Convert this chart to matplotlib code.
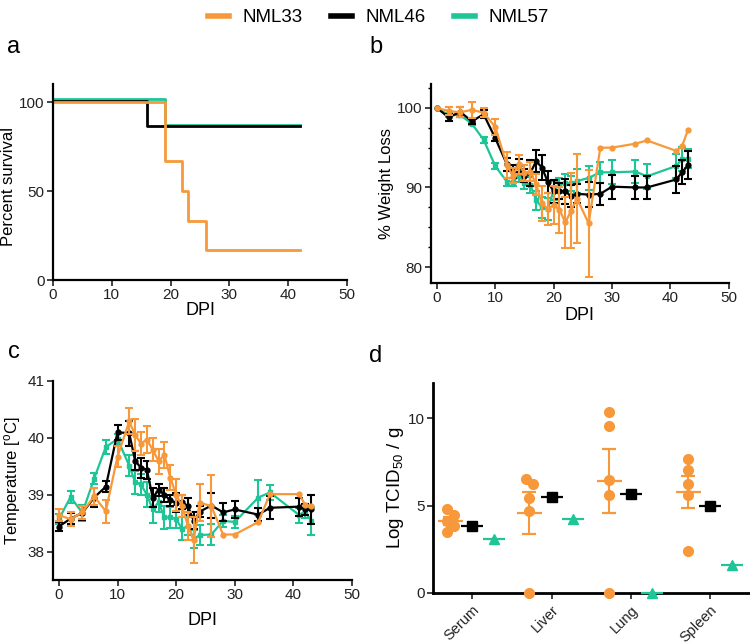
import numpy as np
import matplotlib
matplotlib.use("Agg")
import matplotlib.pyplot as plt
import matplotlib.transforms as mtransforms
from matplotlib.lines import Line2D
from matplotlib.ticker import AutoMinorLocator

plt.rcParams["font.family"] = ["Liberation Sans", "DejaVu Sans"]
plt.rcParams["mathtext.fontset"] = "custom"
plt.rcParams["mathtext.rm"] = "Liberation Sans"
plt.rcParams["mathtext.it"] = "Liberation Sans:italic"

ORANGE = "#F7993A"
BLACK = "#000000"
GREEN = "#1DC597"

strains = ["NML33", "NML46", "NML57"]

# a: survival curves (time, percent)
surv33_t = [0, 19, 22, 23, 26, 42]
surv33_p = [100, 66.7, 50, 33.3, 16.7, 16.7]
surv46_t = [0, 16, 42]
surv46_p = [100, 85.7, 85.7]
surv57_t = [0, 19, 42]
surv57_p = [100, 85.7, 85.7]

# b/c: days post infection
days = [0, 2, 4, 6, 8, 10, 12, 13, 14, 15, 16, 17, 18, 19, 20, 21, 22, 23, 24,
        26, 28, 30, 34, 36, 41, 42, 43]

# b: weight (%)
w33 = [100, 99.6, 99.45, 99.75, 99.4, 97.6, 92.8, 91.5, 92.9, 91.8, 92.0, 90.4,
       88.0, 87.3, 87.8, 87.2, 85.6, 87.1, 88.6, 85.5, 95.0, 95.0, 95.5, 95.9,
       94.6, 95.2, 97.2]
w33_err = [0, 0.5, 0.6, 1.0, 0.6, 1.0, 1.6, 1.0, 1.2, 1.0, 1.2, 1.3, 2.2, 2.0,
           2.4, 2.9, 3.2, 4.7, 5.6, 6.7, 0, 0, 0, 0, 0, 0, 0]
w46 = [100, 98.8, 99.5, 98.3, 99.2, 96.2, 92.9, 92.0, 92.8, 91.5, 91.8, 93.3,
       92.5, 90.7, 89.5, 89.6, 89.5, 88.9, 89.2, 89.1, 89.2, 90.1, 90.0, 90.0,
       91.0, 91.9, 92.8]
w46_err = [0, 0.4, 0.6, 0.3, 0.5, 0.4, 0.8, 0.8, 0.8, 0.8, 1.6, 1.4, 1.6, 1.4,
           1.4, 1.0, 1.6, 1.4, 1.2, 1.6, 1.4, 1.5, 1.4, 1.5, 1.7, 1.5, 1.8]
w57 = [100, 99.1, 99.1, 98.0, 96.0, 92.7, 90.7, 90.7, 91.5, 90.6, 90.3, 88.4,
       87.5, 87.3, 89.6, 90.4, 90.5, 90.5, 90.8, 91.2, 91.9, 91.9, 92.0, 91.4,
       92.7, 93.6, 93.6]
w57_err = [0, 0.2, 0.2, 0.2, 0.4, 0.4, 0.5, 0.5, 0.8, 0.8, 1.0, 1.2, 1.3, 1.4,
           1.2, 0.8, 1.2, 1.0, 1.5, 1.5, 1.3, 1.5, 1.5, 1.6, 1.5, 1.5, 1.2]

# c: temperature (C)
t33 = [38.64, 38.57, 38.69, 38.97, 38.71, 39.67, 40.29, 40.05, 39.9, 39.97,
       39.79, 39.59, 39.7, 39.3, 39.0, 38.8, 38.45, 38.2, 38.86, 38.8, 38.3,
       38.3, 38.52, 39.01, 39.01, 38.82, 38.8]
t33_err = [0.1, 0.12, 0.12, 0.15, 0.2, 0.18, 0.23, 0.29, 0.2, 0.23, 0.2, 0.22,
           0.23, 0.22, 0.28, 0.2, 0.25, 0.4, 0.33, 0.55, 0, 0, 0, 0, 0, 0, 0]
t46 = [38.44, 38.58, 38.68, 38.95, 39.14, 40.1, 40.08, 39.6, 39.47, 39.44,
       38.95, 39.08, 39.0, 38.9, 38.86, 38.87, 38.8, 38.54, 38.7, 38.81, 38.69,
       38.74, 38.65, 38.77, 38.79, 38.74, 38.74]
t46_err = [0.08, 0.1, 0.12, 0.17, 0.1, 0.13, 0.22, 0.17, 0.17, 0.16, 0.16, 0.1,
           0.12, 0.1, 0.17, 0.13, 0.15, 0.15, 0.1, 0.22, 0.16, 0.15, 0.12, 0.2,
           0.16, 0.1, 0.26]
t57 = [38.57, 38.96, 38.68, 39.28, 39.84, 39.98, 39.51, 39.22, 39.18, 39.0,
       38.74, 38.87, 38.6, 38.6, 38.57, 38.4, 38.45, 38.22, 38.29, 38.3, 38.54,
       38.52, 38.95, 39.04, 38.64, 38.71, 38.54]
t57_err = [0.09, 0.1, 0.14, 0.1, 0.13, 0.08, 0.18, 0.2, 0.18, 0.22, 0.23, 0.18,
           0.2, 0.18, 0.15, 0.2, 0.15, 0.16, 0.17, 0.18, 0.1, 0.1, 0.3, 0.13,
           0.13, 0.12, 0.24]

# d: tissue titers (log TCID50/g)
organs = ["Serum", "Liver", "Lung", "Spleen"]
titer33 = [[4.8, 4.44, 4.1, 3.81, 3.47],
           [6.53, 6.25, 5.43, 4.69, 0],
           [10.32, 9.52, 6.48, 5.62, 0],
           [7.66, 7.05, 6.25, 5.6, 2.38]]
titer46 = [3.85, 5.5, 5.68, 4.97]
titer57 = [3.1, 4.23, 0, 1.62]


def style_axes(ax, lw=1.6):
    for s in ["top", "right"]:
        ax.spines[s].set_visible(False)
    for s in ["left", "bottom"]:
        ax.spines[s].set_linewidth(lw)
    ax.tick_params(direction="out", width=1.2, length=4, labelsize=11,
                   colors="#222222", pad=2)
    ax.tick_params(which="minor", direction="out", width=1.0, length=2.5)


fig = plt.figure(figsize=(7.5, 6.44), dpi=100)

# ---- a ----
ax_a = fig.add_axes([0.0707, 0.565, 0.392, 0.304])
off46 = mtransforms.offset_copy(ax_a.transData, fig=fig, x=0, y=1.5, units="dots")
off57 = mtransforms.offset_copy(ax_a.transData, fig=fig, x=0, y=3, units="dots")
ax_a.step(surv57_t, surv57_p, where="post", color=GREEN, lw=2, transform=off57)
ax_a.step(surv46_t, surv46_p, where="post", color=BLACK, lw=2, transform=off46)
ax_a.step(surv33_t, surv33_p, where="post", color=ORANGE, lw=2)
ax_a.set_xlim(0, 50)
ax_a.set_ylim(0, 110)
ax_a.set_xticks(range(0, 51, 10))
ax_a.set_yticks([0, 50, 100])
ax_a.set_xlabel("DPI", fontsize=13, labelpad=0)
ax_a.set_ylabel("Percent survival", fontsize=12)
ax_a.yaxis.set_label_coords(-0.127, 0.48)
style_axes(ax_a)


def series(ax, x, y, err, color, marker):
    y = np.asarray(y, float)
    e = np.asarray(err, float)
    ax.plot(x, y, color=color, lw=1.6, marker=marker, ms=3.5, zorder=3)
    mask = e > 0
    ax.errorbar(np.asarray(x)[mask], y[mask], yerr=e[mask], fmt="none",
                ecolor=color, elinewidth=1.5, capsize=3, capthick=1.5, zorder=3)


# ---- b ----
ax_b = fig.add_axes([0.5747, 0.5606, 0.397, 0.309])
series(ax_b, days, w57, w57_err, GREEN, "s")
series(ax_b, days, w46, w46_err, BLACK, "o")
series(ax_b, days, w33, w33_err, ORANGE, "o")
ax_b.set_xlim(-1, 50)
ax_b.set_ylim(78, 103)
ax_b.set_xticks(range(0, 51, 10))
ax_b.set_yticks([80, 90, 100])
ax_b.yaxis.set_minor_locator(AutoMinorLocator(4))
ax_b.set_xlabel("DPI", fontsize=13, labelpad=1)
ax_b.set_ylabel("% Weight Loss", fontsize=12)
ax_b.yaxis.set_label_coords(-0.126, 0.5)
style_axes(ax_b)

# ---- c ----
ax_c = fig.add_axes([0.0707, 0.0994, 0.3987, 0.309])
series(ax_c, days, t57, t57_err, GREEN, "s")
series(ax_c, days, t46, t46_err, BLACK, "o")
series(ax_c, days, t33, t33_err, ORANGE, "o")
ax_c.set_xlim(-1, 50)
ax_c.set_ylim(37.5, 41)
ax_c.set_xticks(range(0, 51, 10))
ax_c.set_yticks([38, 39, 40, 41])
ax_c.set_xlabel("DPI", fontsize=13, labelpad=7)
ax_c.set_ylabel("Temperature [$^{\\mathrm{o}}$C]", fontsize=12)
ax_c.yaxis.set_label_coords(-0.102, 0.5)
style_axes(ax_c)

# ---- d ----
ax_d = fig.add_axes([0.577, 0.0792, 0.4227, 0.326])
for i, vals in enumerate(titer33):
    vals = np.asarray(vals, float)
    sv = vals[np.argsort(-vals)]
    xs = np.full(len(sv), i - 0.28)
    sign = -1
    for k in range(len(sv)):
        near = (k > 0 and sv[k - 1] - sv[k] < 0.5) or \
               (k < len(sv) - 1 and sv[k] - sv[k + 1] < 0.5)
        if near:
            xs[k] += sign * 0.045
            sign = -sign
    ax_d.plot(xs, sv, "o", color=ORANGE, ms=7, clip_on=False, zorder=3)
    m = vals.mean()
    sem = vals.std(ddof=1) / np.sqrt(len(vals))
    ax_d.errorbar(i - 0.28, m, yerr=sem, fmt="_", color=ORANGE, ms=18, mew=1.6,
                  elinewidth=1.5, capsize=5, capthick=1.5, zorder=2)
xg = np.arange(len(organs))
ax_d.plot(xg, titer46, "s", color=BLACK, ms=7, clip_on=False, zorder=3)
ax_d.plot(xg, titer46, "_", color=BLACK, ms=16, mew=1.6, clip_on=False, zorder=3)
ax_d.plot(xg + 0.27, titer57, "^", color=GREEN, ms=7, clip_on=False, zorder=3)
ax_d.plot(xg + 0.27, titer57, "_", color=GREEN, ms=16, mew=1.6, clip_on=False,
          zorder=3)
ax_d.set_xlim(-0.5, 3.5)
ax_d.set_ylim(0, 12)
ax_d.set_yticks([0, 5, 10])
ax_d.set_xticks(xg)
ax_d.set_xticklabels(organs, rotation=45, ha="right", rotation_mode="anchor",
                     fontsize=10.5)
ax_d.set_ylabel("Log TCID$_{50}$ / g", fontsize=13.5)
ax_d.yaxis.set_label_coords(-0.085, 0.5)
style_axes(ax_d, lw=2)
ax_d.tick_params(axis="x", labelsize=10.5, pad=3)

# panel letters
for lab, x, y in [("a", 14, 47), ("b", 376, 47), ("c", 14, 352), ("d", 376, 356)]:
    fig.text(x / 750, 1 - y / 644, lab, fontsize=17, ha="center", va="center")

handles = [Line2D([], [], color=c, lw=4) for c in (ORANGE, BLACK, GREEN)]
fig.legend(handles, strains, loc="upper center", ncol=3, frameon=False,
           bbox_to_anchor=(0.505, 1.012), fontsize=13.5, handlelength=1.1,
           handletextpad=0.75, columnspacing=1.5)

fig.savefig("out.png", dpi=100)
